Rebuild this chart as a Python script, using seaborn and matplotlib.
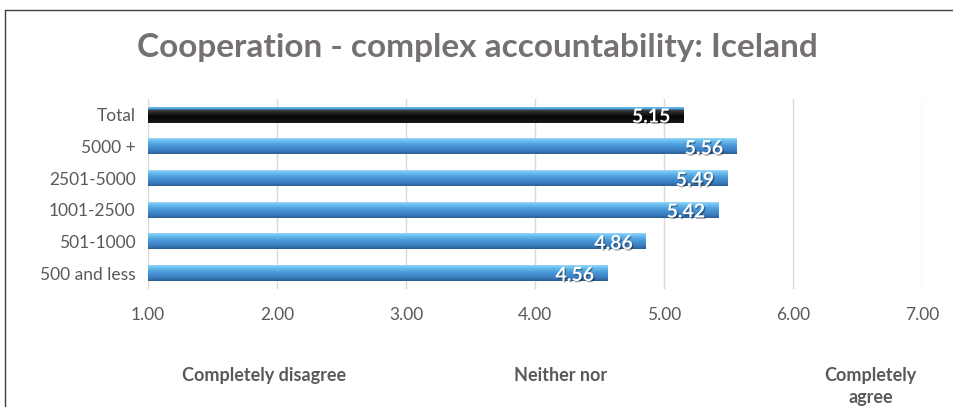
import matplotlib
matplotlib.use("Agg")
import matplotlib.pyplot as plt
import matplotlib.colors as mcolors
import matplotlib.patheffects as pe
from matplotlib.lines import Line2D
import numpy as np
import pandas as pd
import seaborn as sns

categories = ["Total", "5000 +", "2501-5000", "1001-2500", "501-1000", "500 and less"]
values = [5.15, 5.56, 5.49, 5.42, 4.86, 4.56]
tick_values = [1, 2, 3, 4, 5, 6, 7]
tick_labels = ["1.00", "2.00", "3.00", "4.00", "5.00", "6.00", "7.00"]
scale_labels = ["Completely disagree", "Neither nor", "Completely\nagree"]
scale_positions = [1.9, 4.2, 6.6]
title = "Cooperation - complex accountability: Iceland"

sns.set_theme(style="white")
plt.rcParams["font.family"] = ["Lato", "DejaVu Sans"]

grey = "#595959"
df = pd.DataFrame({"category": categories, "value": values})

fig = plt.figure(figsize=(9.54, 4.07), dpi=100)
ax = fig.add_axes([148 / 954, 1 - 289 / 407, (922 - 148) / 954, 190 / 407])

sns.barplot(data=df, x="value", y="category", orient="h", width=0.5,
            color="#4a95d6", ax=ax, saturation=1, edgecolor="none")

XMIN, XMAX = 1, 7
ax.set_xticks(tick_values)
ax.set_xticklabels(tick_labels, color=grey, fontsize=12.5)
ax.tick_params(axis="x", length=0, pad=13)
ax.tick_params(axis="y", length=0, pad=9, labelcolor=grey, labelsize=12.5)
ax.set_xlabel("")
ax.set_ylabel("")
for s in ax.spines.values():
    s.set_visible(False)
ax.grid(axis="x", color="#d9d9d9", linewidth=1)
ax.set_axisbelow(True)

blue_grad = mcolors.LinearSegmentedColormap.from_list(
    "b", [(0, "#9ad8f8"), (0.15, "#6cc0f0"), (0.45, "#4a9ad9"), (0.8, "#3a7cbf"), (1, "#2a5d8f")])
black_grad = mcolors.LinearSegmentedColormap.from_list(
    "k", [(0, "#6fc0f0"), (0.12, "#4a9ad9"), (0.2, "#3a3a3a"), (0.6, "#050505"), (1, "#1a1a1a")])

grad = np.linspace(0, 1, 100).reshape(-1, 1)
for i, p in enumerate(ax.patches[:len(values)]):
    x0, y0 = p.get_x(), p.get_y()
    w, h = p.get_width(), p.get_height()
    xs, xe = max(x0, XMIN), x0 + w
    cmap = black_grad if i == 0 else blue_grad
    ytop, ybot = min(y0, y0 + h), max(y0, y0 + h)
    ax.imshow(grad, aspect="auto", cmap=cmap, extent=[xs, xe, ybot, ytop],
              origin="upper", zorder=p.get_zorder() + 0.1)
    p.set_facecolor("none")
    t = ax.text(xe - 0.1, i + 0.07, f"{values[i]:.2f}", ha="right", va="center",
                color="white", fontsize=14, fontweight="bold", zorder=5)
    t.set_path_effects([pe.withSimplePatchShadow(offset=(1, -1), shadow_rgbFace="#000000", alpha=0.35)])

ax.set_xlim(XMIN, XMAX)
ax.set_ylim(len(categories) - 0.5, -0.5)

for lab, pos in zip(scale_labels, scale_positions):
    ax.text(pos, -0.41, lab, transform=ax.get_xaxis_transform(), ha="center", va="top",
            color=grey, fontsize=13, fontweight="bold", linespacing=1.4)

fig.text(0.5, 1 - 47 / 407, title, ha="center", va="center", color="#767171",
         fontsize=24, fontweight="bold")

fig.add_artist(Line2D([5 / 954, 5 / 954], [0, 1 - 10 / 407], color="#404040", lw=1, transform=fig.transFigure))
fig.add_artist(Line2D([5 / 954, 1], [1 - 10 / 407, 1 - 10 / 407], color="#404040", lw=1, transform=fig.transFigure))

fig.savefig("out.png", dpi=100)
